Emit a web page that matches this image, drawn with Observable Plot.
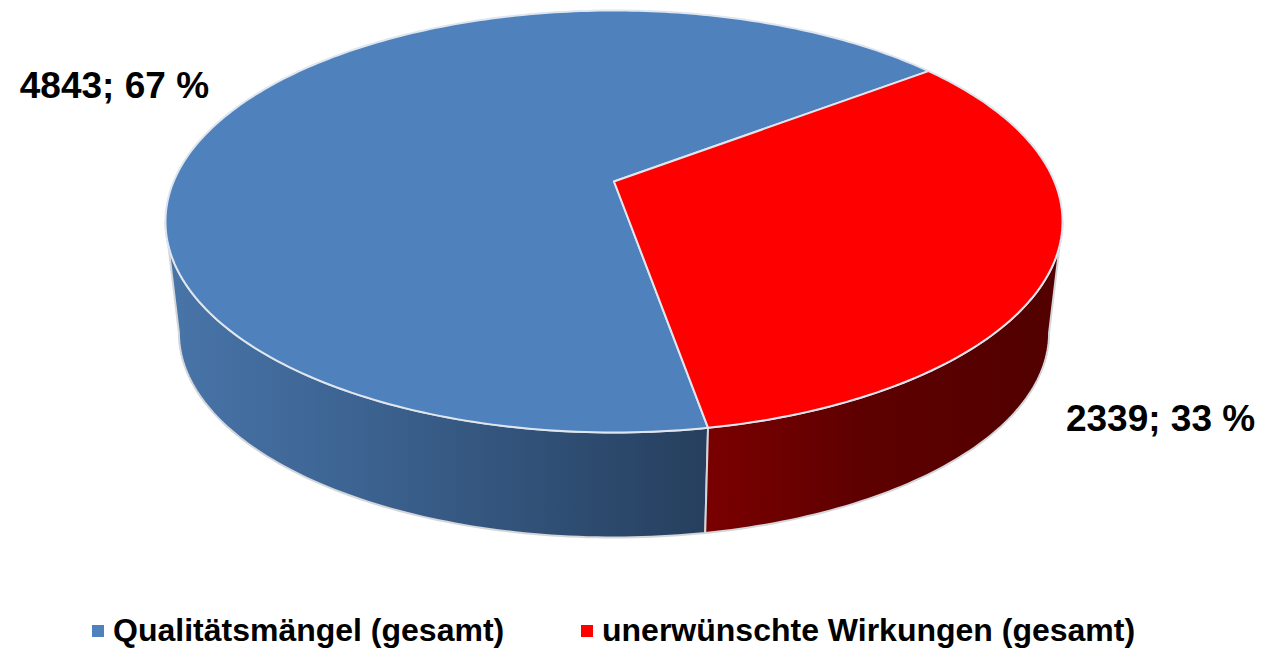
<!DOCTYPE html>
<html><head><meta charset="utf-8">
<script src="https://cdn.jsdelivr.net/npm/d3@7"></script>
<script src="https://cdn.jsdelivr.net/npm/@observablehq/plot@0.6"></script>
<style>
html,body{margin:0;padding:0;background:#fff;overflow:hidden}
#root{position:relative;width:1263px;height:649px;font-family:"Liberation Sans",Arial,sans-serif}
#root svg{display:block;position:absolute;left:0;top:0}
.lg{position:absolute;top:611px;font-weight:700;font-size:32px;line-height:38px;color:#000;white-space:nowrap}
.sw{position:absolute;top:625px;width:12px;height:12px}
</style></head><body><div id="root"></div>
<script>
const categories = ["Qualitätsmängel (gesamt)", "unerwünschte Wirkungen (gesamt)"];
const values = [4843, 2339];
const topColors = ["#4f81bd", "#ff0000"];
const wallStops = [
  [[0, "#4874a8"], [0.35, "#3c6391"], [1, "#263f5e"]],
  [[0, "#7a0000"], [0.45, "#5e0000"], [1, "#520000"]]
];
const firstSliceAngle = 170;
const labelDx = [-116, 106];
const labelDy = [-26, 158];
const legendSwatchX = [92, 581];
const legendTextX = [113, 602];

// perspective disc model
const cx = 613.5, cy = 181, a = 440.4, b = 203.4, k = 0.1896;
const wallScale = 0.97, vanishY = 3933;
const rad = d => d * Math.PI / 180;
function project(theta, r = 1) {
  const u = r * Math.sin(rad(theta)), v = -r * Math.cos(rad(theta));
  const den = 1 - k * v;
  return [cx + a * u / den, cy + b * v / den];
}
function projectBase(theta) {
  const [x, y] = project(theta);
  return [cx + (x - cx) * wallScale, vanishY - (vanishY - y) * wallScale];
}
function arcAngles(t0, t1) {
  const n = Math.max(2, Math.ceil(Math.abs(t1 - t0)));
  return d3.range(n + 1).map(i => t0 + (t1 - t0) * i / n);
}

const total = d3.sum(values);
let acc = firstSliceAngle;
const slices = values.map((v, i) => {
  const t0 = acc, t1 = acc + v / total * 360;
  acc = t1;
  return {i, t0, t1, mid: (t0 + t1) / 2};
});

// top faces
const topFaces = slices.flatMap(s => [
  {s: s.i, p: [cx, cy]},
  ...arcAngles(s.t0, s.t1).map(t => ({s: s.i, p: project(t)}))
]);

// visible outer walls: only the front-facing part of each slice
const silhouette = Math.acos(-k) * 180 / Math.PI;
const walls = slices.flatMap(s => {
  const start = ((s.t0 % 360) + 360) % 360;
  const end = start + (s.t1 - s.t0);
  const lo = Math.max(start, silhouette);
  const hi = Math.min(end, 360 - silhouette);
  const ts = arcAngles(lo, hi);
  return [
    ...ts.map(t => ({s: s.i, p: project(t)})),
    ...ts.slice().reverse().map(t => ({s: s.i, p: projectBase(t)}))
  ];
});

const labels = slices.map(s => {
  const p = project(s.mid);
  const v = values[s.i];
  return {x: p[0], y: p[1], dx: labelDx[s.i], dy: labelDy[s.i],
    text: `${v}; ${Math.round(v / total * 100)} %`};
});

const gradientDefs = () => {
  const defs = d3.create("svg:defs");
  const spans = [[172, 705], [707, 1050]];
  values.forEach((_, i) => {
    const g = defs.append("linearGradient").attr("id", `wall${i}`)
      .attr("gradientUnits", "userSpaceOnUse")
      .attr("x1", spans[i][0]).attr("x2", spans[i][1]).attr("y1", 0).attr("y2", 0);
    wallStops[i].forEach(([o, c]) => g.append("stop").attr("offset", o).attr("stop-color", c));
  });
  return defs.node();
};

const chart = Plot.plot({
  width: 1263, height: 649,
  margin: 0,
  style: {background: "transparent"},
  x: {domain: [0, 1263], range: [0, 1263], axis: null},
  y: {domain: [0, 649], range: [0, 649], axis: null},
  marks: [
    gradientDefs,
    ...values.map((_, i) => Plot.line(walls.filter(d => d.s === i), {
      x: d => d.p[0], y: d => d.p[1], curve: "linear-closed",
      fill: `url(#wall${i})`, stroke: "#d4d6da", strokeWidth: 2, strokeLinejoin: "round"
    })),
    ...values.map((_, i) => Plot.line(topFaces.filter(d => d.s === i), {
      x: d => d.p[0], y: d => d.p[1], curve: "linear-closed",
      fill: topColors[i], stroke: "#dfe6ef", strokeWidth: 2, strokeLinejoin: "round"
    })),
    ...labels.map(l => Plot.text([l], {
      x: "x", y: "y", text: "text", dx: l.dx, dy: l.dy,
      fontSize: 37, fontWeight: 700, fontFamily: "Liberation Sans", fill: "#000"
    }))
  ]
});
const root = document.getElementById("root");
root.appendChild(chart);
categories.forEach((c, i) => {
  const sw = document.createElement("div");
  sw.className = "sw"; sw.style.left = legendSwatchX[i] + "px"; sw.style.background = topColors[i];
  root.appendChild(sw);
  const t = document.createElement("div");
  t.className = "lg"; t.style.left = legendTextX[i] + "px"; t.textContent = c;
  root.appendChild(t);
});
</script></body></html>
